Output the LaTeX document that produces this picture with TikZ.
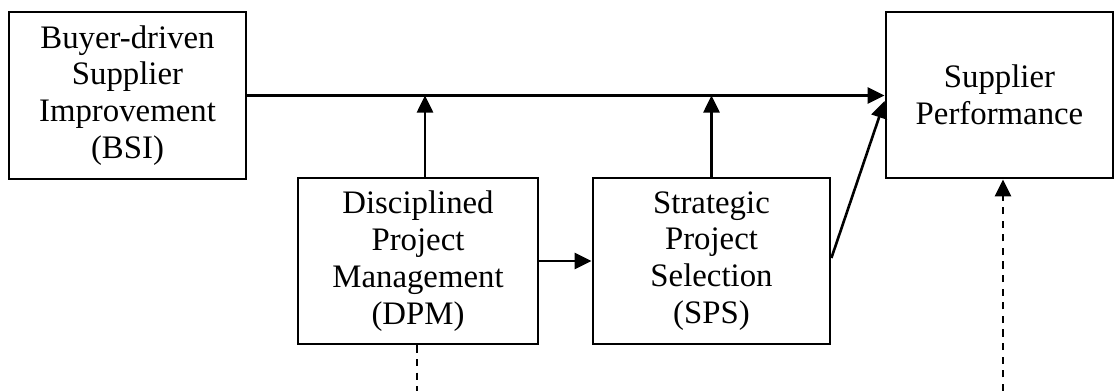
\documentclass[tikz,border=0pt]{standalone}
\usepackage{fontspec}
\setmainfont{Liberation Serif}
\usetikzlibrary{arrows.meta,calc}

\tikzset{
  box/.style={draw, line width=1.4pt, inner sep=0pt, align=center,
    font=\fontsize{16.4}{18.4}\selectfont},
  conn/.style={line width=1.3pt, -{Triangle[length=8.5pt,width=8pt]}},
  dashline/.style={line width=1.4pt, dash pattern=on 3.6pt off 3.2pt},
}

\begin{document}
\begin{tikzpicture}[x=0.5pt,y=-0.5pt]
\useasboundingbox (0,0) rectangle (1115,391);

% construct boxes
\node[box, minimum width=118.5pt, minimum height=83.5pt] (BSI) at (127.5,95.5)
  {Buyer-driven\\Supplier\\Improvement\\(BSI)};
\node[box, minimum width=120pt, minimum height=83pt] (DPM) at (418,261)
  {Disciplined\\Project\\Management\\(DPM)};
\node[box, minimum width=118.5pt, minimum height=83pt] (SPS) at (711.5,261)
  {Strategic\\Project\\Selection\\(SPS)};
\node[box, minimum width=113.5pt, minimum height=83pt] (SP) at (999.5,95)
  {Supplier\\Performance};

% junctions on the main path and free ends of the dashed lines
\coordinate (j1) at (425,95.5);
\coordinate (j2) at (711.5,95.5);
\coordinate (d1) at (417,391);
\coordinate (d2) at (1003,391);

% main effect
\draw[conn] (BSI.east) -- (BSI.east -| SP.west);

% moderating paths onto the main effect
\draw[conn] (DPM.north -| j1) -- (j1);
\draw[conn] (SPS.north) -- (j2);

% DPM to SPS, SPS to performance
\draw[conn] (DPM) -- (SPS);
\draw[conn] ($(SPS.east)+(0,-3)$) -- ($(SP.west)+(0,6)$);

% dashed links
\draw[dashline] (DPM.south -| d1) -- (d1);
\draw[dashline, -{Triangle[length=8.5pt,width=8pt]}] (d2) -- (d2 |- SP.south);
\end{tikzpicture}
\end{document}
